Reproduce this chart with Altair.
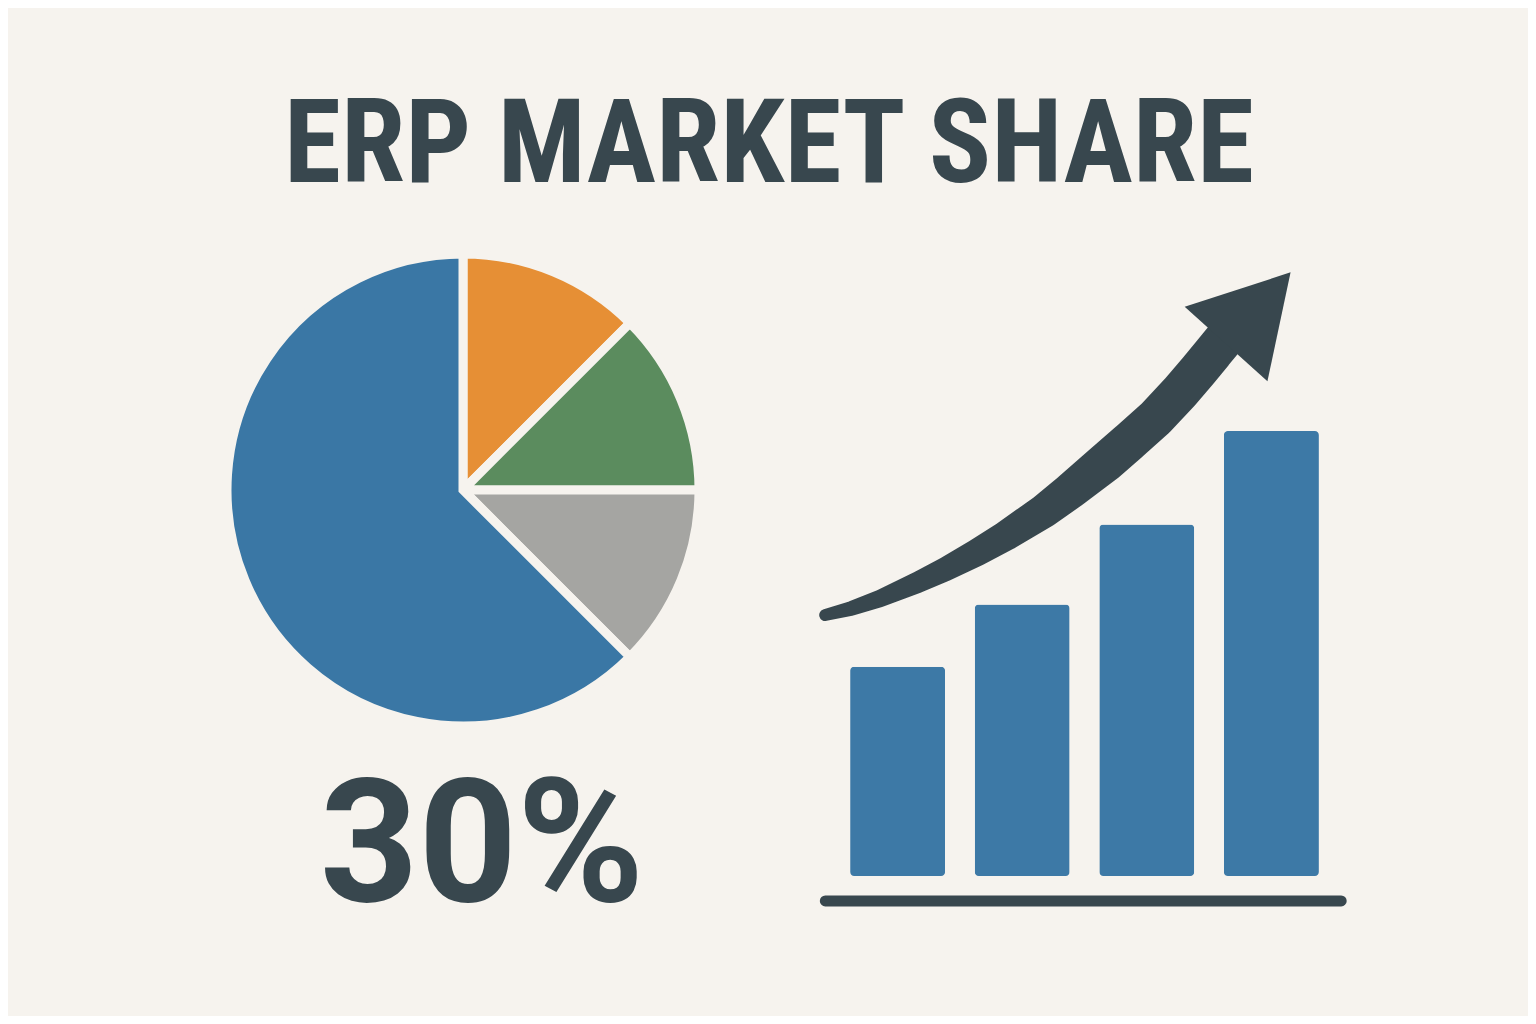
import altair as alt
import pandas as pd

# ---- data ----
title_text = ["ERP MARKET SHARE"]
segments = ["Vendor A", "Vendor B", "Others", "Leader"]
shares = [12.5, 12.5, 12.5, 62.5]
headline = ["30%"]

periods = [1, 2, 3, 4]
values = [47, 61, 79, 100]

trend_x = [0.419, 0.632, 0.859, 1.161, 1.385, 1.635, 1.872, 2.175, 2.385,
           2.675, 2.859, 3.070, 3.268, 3.412, 3.531, 3.689]
trend_y = [58.65, 60.16, 62.36, 65.98, 68.97, 72.67, 76.52, 82.02, 86.52,
           93.12, 97.62, 102.90, 108.81, 113.55, 117.60, 122.99]
head_x = [3.895]
head_y = [127.6]

base_x = [0.42]
base_x2 = [4.56]
base_y = [-5.6]

# ---- styles ----
BG = "#f6f3ee"
DARK = "#38474e"
BLUE = "#3d79a6"
seg_colors = ["#e68f35", "#5b8c5e", "#a5a5a2", "#3a77a5"]
FONT_TITLE = "Roboto Condensed, Roboto, sans-serif"
FONT_NUM = "Roboto, sans-serif"

xs = alt.Scale(domain=[0, 5], range=[760, 1393], nice=False, zero=False)
ys = alt.Scale(domain=[0, 100], range=[868, 423], nice=False, zero=False)

title_df = pd.DataFrame({"t": title_text})
pie_df = pd.DataFrame({"segment": segments, "share": shares, "k": range(len(segments))})
head_df = pd.DataFrame({"t": headline})
bar_df = pd.DataFrame({"period": periods, "value": values})
trend_df = pd.DataFrame({"x": trend_x, "y": trend_y, "i": range(len(trend_x))})
arrow_df = pd.DataFrame({"x": head_x, "y": head_y})
base_df = pd.DataFrame({"x": base_x, "x2": base_x2, "y": base_y})

title = alt.Chart(title_df).mark_text(
    font=FONT_TITLE, fontSize=116, fontWeight="bold", color=DARK,
    align="center", baseline="alphabetic"
).encode(text="t:N", x=alt.value(761), y=alt.value(174))

pie = alt.Chart(pie_df).mark_arc(
    outerRadius=236, stroke=BG, strokeWidth=9
).encode(
    theta=alt.Theta("share:Q", stack=True),
    order=alt.Order("k:Q"),
    color=alt.Color("segment:N", scale=alt.Scale(domain=segments, range=seg_colors), legend=None),
    x=alt.value(455), y=alt.value(482),
)

pct = alt.Chart(head_df).mark_text(
    font=FONT_NUM, fontSize=172, fontWeight="bold", color=DARK,
    align="center", baseline="alphabetic"
).encode(text="t:N", x=alt.value(474), y=alt.value(893))

bars = alt.Chart(bar_df).mark_bar(
    orient="vertical", size=95, color=BLUE, cornerRadius=4
).encode(
    x=alt.X("period:Q", scale=xs, axis=None),
    y=alt.Y("value:Q", scale=ys, axis=None),
)

base = alt.Chart(base_df).mark_rule(
    color=DARK, strokeWidth=11, strokeCap="round"
).encode(
    x=alt.X("x:Q", scale=xs, axis=None),
    x2="x2:Q",
    y=alt.Y("y:Q", scale=ys, axis=None),
)

trail = alt.Chart(trend_df).mark_trail(color=DARK).encode(
    x=alt.X("x:Q", scale=xs, axis=None),
    y=alt.Y("y:Q", scale=ys, axis=None),
    order="i:Q",
    size=alt.Size("x:Q", scale=alt.Scale(domain=[0.42, 2.65], range=[12, 40], clamp=True), legend=None),
)

head = alt.Chart(arrow_df).mark_point(
    shape="triangle-up", size=12400, filled=True, opacity=1, color=DARK, angle=42
).encode(
    x=alt.X("x:Q", scale=xs, axis=None),
    y=alt.Y("y:Q", scale=ys, axis=None),
)

chart = alt.layer(title, pie, pct, bars, base, trail, head).properties(
    width=1520, height=1008,
    autosize=alt.AutoSizeParams(type="none"),
    padding=0,
    background=BG,
).configure_view(stroke=None)

chart.save("out.html", embed_options={"renderer": "svg", "actions": False})
